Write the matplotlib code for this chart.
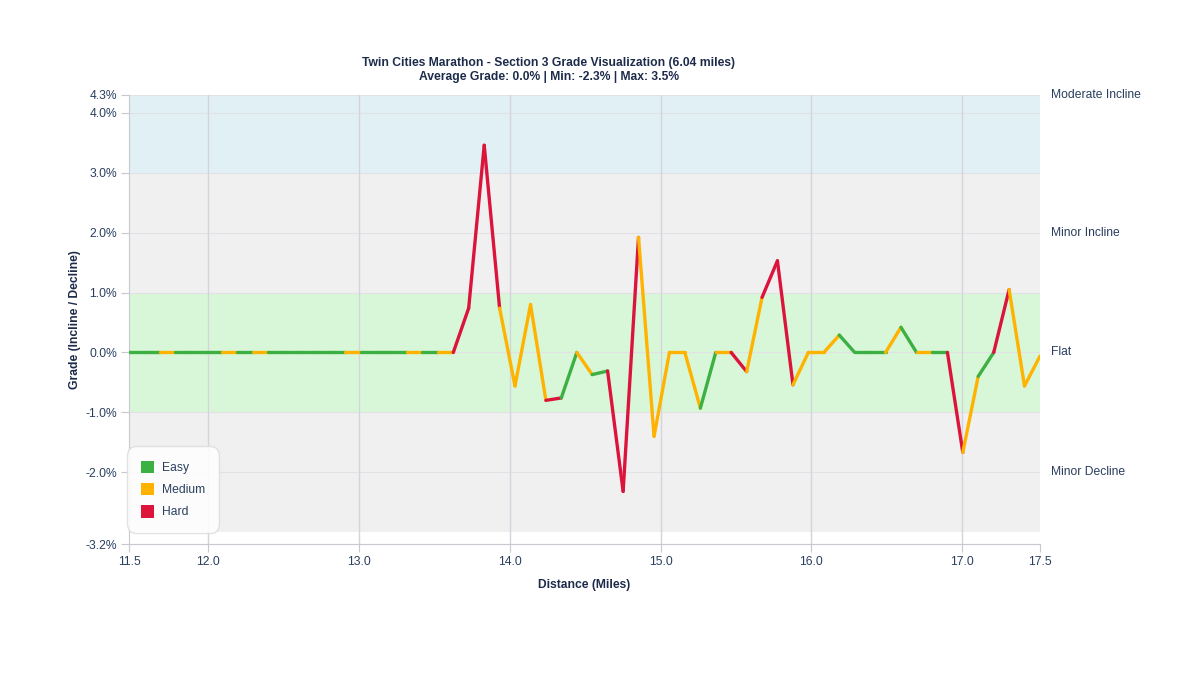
import numpy as np
import matplotlib
matplotlib.use("Agg")
import matplotlib.pyplot as plt
from matplotlib.collections import LineCollection
from matplotlib.patches import Patch

# --- Data ---
distance_mi = [
    11.476, 11.578, 11.681, 11.783, 11.885, 11.988, 12.090, 12.193, 12.295, 12.397,
    12.500, 12.602, 12.704, 12.807, 12.909, 13.012, 13.114, 13.216, 13.319, 13.421,
    13.523, 13.626, 13.728, 13.831, 13.933, 14.035, 14.138, 14.240, 14.342, 14.445,
    14.547, 14.649, 14.752, 14.854, 14.957, 15.059, 15.161, 15.264, 15.366, 15.468,
    15.571, 15.673, 15.775, 15.878, 15.980, 16.083, 16.185, 16.287, 16.390, 16.492,
    16.594, 16.697, 16.799, 16.902, 17.004, 17.106, 17.209, 17.311, 17.413, 17.516,
]
grade_pct = [
    0.0, 0.0, 0.0, 0.0, 0.0, 0.0, 0.0, 0.0, 0.0, 0.0,
    0.0, 0.0, 0.0, 0.0, 0.0, 0.0, 0.0, 0.0, 0.0, 0.0,
    0.0, 0.0, 0.74, 3.46, 0.74, -0.56, 0.80, -0.80, -0.76, 0.0,
    -0.37, -0.31, -2.32, 1.92, -1.40, 0.0, 0.0, -0.93, 0.0, 0.0,
    -0.32, 0.92, 1.53, -0.54, 0.0, 0.0, 0.29, 0.0, 0.0, 0.0,
    0.42, 0.0, 0.0, 0.0, -1.67, -0.40, 0.0, 1.05, -0.56, -0.06,
]
# difficulty of each segment between consecutive points
segment_level = [
    "Easy", "Easy", "Medium", "Easy", "Easy", "Easy", "Medium", "Easy", "Medium", "Easy",
    "Easy", "Easy", "Easy", "Easy", "Medium", "Easy", "Easy", "Easy", "Medium", "Easy",
    "Medium", "Hard", "Hard", "Hard", "Medium", "Medium", "Medium", "Hard", "Easy", "Medium",
    "Easy", "Hard", "Hard", "Medium", "Medium", "Medium", "Medium", "Easy", "Medium", "Hard",
    "Medium", "Hard", "Hard", "Medium", "Medium", "Medium", "Easy", "Easy", "Easy", "Medium",
    "Easy", "Medium", "Easy", "Hard", "Medium", "Easy", "Hard", "Medium", "Medium",
]

level_names = ["Easy", "Medium", "Hard"]
level_colors = {"Easy": "#3cb043", "Medium": "#ffb300", "Hard": "#dc143c"}

# background zones
zone_lows = [3.0, 1.0, -1.0, -3.0]
zone_highs = [4.3, 3.0, 1.0, -1.0]
zone_colors = ["#e1f0f5", "#f0f0f0", "#d8f7d8", "#f0f0f0"]
zone_labels = ["Moderate Incline", "Minor Incline", "Flat", "Minor Decline"]
zone_label_y = [4.3, 2.0, 0.0, -2.0]

y_ticks = [-3.2, -2.0, -1.0, 0.0, 1.0, 2.0, 3.0, 4.0, 4.3]
x_grid = [12.0, 13.0, 14.0, 15.0, 16.0, 17.0]

TEXT = "#2a3f5f"
TITLE = "#1c2b4a"
FS = 8.7

plt.rcParams["font.family"] = ["Liberation Sans", "DejaVu Sans"]

fig = plt.figure(figsize=(12, 6.75), dpi=100)
ax = fig.add_axes([0.1075, 0.194, 0.7592, 0.6653])

x0, x1 = distance_mi[0], distance_mi[-1]
ymin, ymax = -3.2, 4.3

for lo, hi, c in zip(zone_lows, zone_highs, zone_colors):
    ax.axhspan(lo, hi, color=c, zorder=0, lw=0)

for yt in y_ticks:
    ax.axhline(yt, color="#e2e2e6", lw=0.8, zorder=1)
for xg in x_grid:
    ax.axvline(xg, color="#d4d4dc", lw=1.0, zorder=1)

pts = np.column_stack([distance_mi, grade_pct])
segs = np.stack([pts[:-1], pts[1:]], axis=1)
colors = [level_colors[lv] for lv in segment_level]
lc = LineCollection(segs, colors=colors, linewidths=2.4, zorder=3,
                    capstyle="round", joinstyle="round")
ax.add_collection(lc)

ax.set_xlim(x0, x1)
ax.set_ylim(ymin, ymax)

xt = [x0] + x_grid + [x1]
ax.set_xticks(xt)
ax.set_xticklabels([f"{v:.1f}" for v in xt])
ax.set_yticks(y_ticks)
ax.set_yticklabels([f"{v:.1f}%" for v in y_ticks])
ax.tick_params(axis="both", colors="#c8c8d0", labelcolor=TEXT, labelsize=FS,
               length=5.5, width=0.8, pad=3)

for s in ["top", "right"]:
    ax.spines[s].set_visible(False)
for s in ["left", "bottom"]:
    ax.spines[s].set_color("#c8c8d0")
    ax.spines[s].set_linewidth(0.8)

ax.set_xlabel("Distance (Miles)", fontsize=FS, fontweight="bold", color=TITLE, labelpad=8)
ax.set_ylabel("Grade (Incline / Decline)", fontsize=FS, fontweight="bold", color=TITLE, labelpad=3)

avg = 0.0
fig.text(0.4575, 0.896,
         "Twin Cities Marathon - Section 3 Grade Visualization (6.04 miles)\n"
         f"Average Grade: {avg:.1f}% | Min: {min(grade_pct):.1f}% | Max: {max(grade_pct):.1f}%",
         ha="center", va="center", fontsize=FS, fontweight="bold", color=TITLE, linespacing=1.25)

for lab, yv in zip(zone_labels, zone_label_y):
    ax.text(1.0125, (yv - ymin) / (ymax - ymin), lab, transform=ax.transAxes,
            ha="left", va="center", fontsize=FS, color=TEXT)

handles = [Patch(facecolor=level_colors[n], edgecolor="none", label=n) for n in level_names]
leg = ax.legend(handles=handles, loc="lower left", bbox_to_anchor=(0.0, 0.03),
                borderaxespad=0, frameon=True, fontsize=FS, handlelength=1.1, handleheight=1.2,
                handletextpad=0.6, borderpad=1.0, labelspacing=0.75)
leg.get_frame().set_edgecolor("#dddddd")
leg.get_frame().set_facecolor("white")
leg.get_frame().set_alpha(0.85)
leg.get_frame().set_boxstyle("round,pad=0.2,rounding_size=0.8")
for t in leg.get_texts():
    t.set_color(TEXT)

fig.savefig("out.png", dpi=100)
